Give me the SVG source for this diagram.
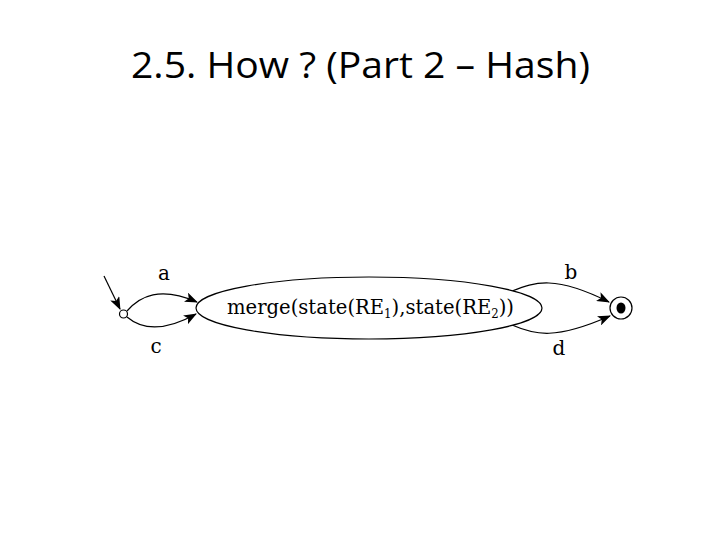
<svg xmlns="http://www.w3.org/2000/svg" width="720" height="540" viewBox="0 0 720 540">
<defs>
<marker id="ah" markerWidth="13" markerHeight="10" refX="12" refY="5" orient="auto" markerUnits="userSpaceOnUse">
<path d="M0,0 L13,5 L0,10 L3,5 Z" fill="#000"/>
</marker>
</defs>
<style>
.title{font-family:"Open Sans","Noto Sans",sans-serif;font-size:36px;fill:#000}
.lbl{font-family:"DejaVu Serif","Liberation Serif",serif;font-size:20px;fill:#000}
.edge{fill:none;stroke:#000;stroke-width:1.2;marker-end:url(#ah)}
.shape{fill:#fff;stroke:#000;stroke-width:1.2}
</style>
<rect width="720" height="540" fill="#fff"/>
<text class="title" x="131" y="78" textLength="459" lengthAdjust="spacingAndGlyphs">2.5. How ? (Part 2 – Hash)</text>
<g id="connectors">
<path class="edge" d="M104,276 L120,309"/>
<path class="edge" d="M127,311 C140,296 160,286 197,302"/>
<path class="edge" d="M127,317 C140,328 160,334 196,314"/>
<path class="edge" d="M512,291 C535,282 555,275 609,302"/>
<path class="edge" d="M512,325 C535,335 555,340 610,316"/>
<text class="lbl" x="164" y="280" text-anchor="middle">a</text>
<text class="lbl" x="156" y="353" text-anchor="middle">c</text>
<text class="lbl" x="571" y="279" text-anchor="middle">b</text>
<text class="lbl" x="559" y="355" text-anchor="middle">d</text>
</g>
<g id="start">
<circle class="shape" cx="123.5" cy="314" r="4"/>
</g>
<g id="merge">
<ellipse class="shape" cx="369" cy="308" rx="173" ry="31"/>
<text class="lbl" x="227" y="314" textLength="287" lengthAdjust="spacingAndGlyphs">merge(state(RE<tspan font-size="12" dy="4">1</tspan><tspan dy="-4">),state(RE</tspan><tspan font-size="12" dy="4">2</tspan><tspan dy="-4">))</tspan></text>
</g>
<g id="final">
<circle class="shape" cx="621" cy="308" r="11"/>
<ellipse cx="621" cy="308" rx="4.5" ry="5.5" fill="#000"/>
</g>
</svg>
